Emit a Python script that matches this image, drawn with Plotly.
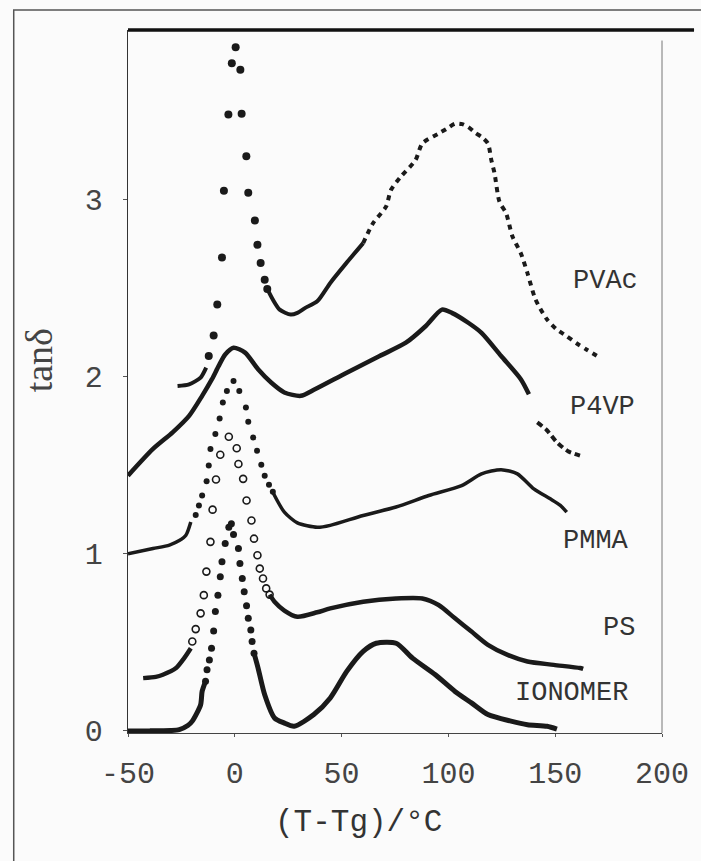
import plotly.graph_objects as go

# ---------------- data ----------------
# PVAc (filled dots)
pvac_lead_x = [-26.8, -21.4, -16.0, -13.4]
pvac_lead_y = [1.949, 1.958, 1.996, 2.052]
pvac_peak_x = [-12.2, -9.9, -8.2, -6.0, -5.1, -3.0, -1.4, 0.4, 2.6, 3.2, 5.4, 6.3, 9.4, 10.6, 12.1, 14.0, 15.2]
pvac_peak_y = [2.118, 2.234, 2.409, 2.675, 3.052, 3.482, 3.772, 3.862, 3.735, 3.487, 3.247, 3.041, 2.883, 2.746, 2.643, 2.549, 2.497]
pvac_trough_x = [15.2, 17.8, 21.0, 26.2, 29.3, 33.0, 38.6, 44.7, 52.0, 60.1]
pvac_trough_y = [2.497, 2.437, 2.380, 2.352, 2.362, 2.390, 2.427, 2.531, 2.640, 2.756]
pvac_hump_x = [60.1, 64.7, 70.8, 73.1, 77.7, 84.6, 87.8, 95.4, 99.0, 103.1, 106.5, 109.3, 112.5, 115.5, 118.5, 120.1,
               121.6, 123.9, 127.0, 130.0, 133.9, 137.0, 140.8, 146.2, 150.5, 155.4, 160.0, 164.6, 170.8]
pvac_hump_y = [2.756, 2.868, 2.962, 3.056, 3.131, 3.225, 3.319, 3.375, 3.400, 3.431, 3.428, 3.412, 3.380, 3.356, 3.319, 3.225,
               3.150, 2.990, 2.925, 2.793, 2.699, 2.587, 2.437, 2.324, 2.270, 2.230, 2.190, 2.155, 2.109]

# P4VP (open circles, dense)
p4vp_main_x = [-50.0, -38.3, -29.1, -21.4, -15.3, -10.7, -7.6, -4.5, -0.6, 4.8, 10.9, 17.0, 23.2, 30.9, 37.5,
               52.4, 67.8, 80.1, 89.3, 97.0, 101.6, 109.3, 115.5, 124.7, 133.9, 137.7]
p4vp_main_y = [1.442, 1.593, 1.687, 1.780, 1.893, 1.987, 2.061, 2.127, 2.165, 2.137, 2.043, 1.968, 1.912, 1.893, 1.930,
               2.024, 2.118, 2.193, 2.286, 2.380, 2.362, 2.306, 2.249, 2.118, 1.987, 1.902]
p4vp_tail_x = [141.6, 146.0, 150.8, 156.0, 161.6]
p4vp_tail_y = [1.743, 1.700, 1.630, 1.580, 1.555]

# PMMA (small filled dots)
pmma_left_x = [-50.0, -38.3, -30.6, -26.0, -22.9, -20.6]
pmma_left_y = [1.000, 1.030, 1.050, 1.075, 1.105, 1.180]
pmma_peak_x = [-18.3, -16.8, -15.3, -13.2, -12.2, -11.4, -9.1, -7.1, -5.6, -3.7, -0.6, 2.1, 5.2, 6.3, 8.6, 10.4,
               12.4, 14.0, 16.0, 17.8]
pmma_peak_y = [1.220, 1.274, 1.330, 1.410, 1.499, 1.593, 1.677, 1.765, 1.855, 1.921, 1.977, 1.921, 1.827, 1.746,
               1.658, 1.583, 1.503, 1.442, 1.390, 1.351]
pmma_right_x = [17.8, 18.6, 23.2, 29.3, 38.6, 44.7, 60.1, 75.5, 90.8, 106.2, 115.5, 124.7, 132.3, 140.0, 147.7, 152.4, 155.4]
pmma_right_y = [1.351, 1.330, 1.236, 1.175, 1.150, 1.161, 1.217, 1.265, 1.330, 1.386, 1.452, 1.476, 1.452, 1.367, 1.311,
                1.274, 1.236]

# PS (open circles)
ps_base_x = [-42.9, -37.0, -33.7, -27.5, -23.7, -20.6]
ps_base_y = [0.298, 0.305, 0.317, 0.355, 0.411, 0.467]
ps_peak_x = [-19.9, -18.3, -16.0, -14.5, -13.3, -11.4, -10.4, -8.8, -6.8, -2.8, 0.9, 1.7, 3.9, 5.5, 7.8, 9.0,
             10.6, 11.7, 13.2, 14.7, 16.3]
ps_peak_y = [0.505, 0.575, 0.664, 0.767, 0.900, 1.068, 1.250, 1.420, 1.560, 1.662, 1.597, 1.508, 1.424, 1.302,
             1.189, 1.086, 0.992, 0.917, 0.861, 0.805, 0.770]
ps_tail_x = [16.3, 18.6, 23.2, 29.3, 38.6, 44.7, 60.1, 75.5, 87.8, 95.4, 103.1, 110.8, 118.5, 127.7, 137.0, 149.3,
             161.6, 163.1]
ps_tail_y = [0.770, 0.730, 0.680, 0.645, 0.670, 0.692, 0.730, 0.748, 0.748, 0.711, 0.636, 0.561, 0.486, 0.429, 0.392,
             0.373, 0.355, 0.350]

# IONOMER (filled dots)
iono_base_x = [-50.0, -40.0, -30.0, -26.0, -22.0, -19.9, -16.0, -15.3, -13.7]
iono_base_y = [0.000, 0.000, 0.002, 0.007, 0.030, 0.055, 0.148, 0.223, 0.280]
iono_peak_x = [-13.7, -13.0, -11.9, -10.9, -9.9, -9.1, -7.9, -6.8, -6.0, -4.5, -2.8, -1.6, -0.6, 1.7, 2.4, 3.5,
               4.4, 5.5, 6.3, 7.5, 8.1, 9.0]
iono_peak_y = [0.280, 0.345, 0.401, 0.467, 0.564, 0.674, 0.767, 0.871, 0.955, 1.058, 1.150, 1.170, 1.110, 1.030,
               0.945, 0.861, 0.786, 0.707, 0.636, 0.570, 0.505, 0.439]
iono_right_x = [9.0, 10.9, 14.0, 18.6, 23.0, 27.8, 37.0, 44.7, 52.4, 60.1, 66.2, 75.5, 83.2, 93.9, 103.1, 110.8,
                118.5, 129.3, 137.0, 146.2, 150.8]
iono_right_y = [0.439, 0.355, 0.204, 0.073, 0.045, 0.026, 0.092, 0.186, 0.336, 0.449, 0.495, 0.495, 0.411, 0.317, 0.223,
                0.158, 0.092, 0.055, 0.035, 0.026, 0.010]

# curve labels
label_text = ["PVAc", "P4VP", "PMMA", "PS", "IONOMER"]
label_x = [173.7, 172.3, 169.1, 179.7, 157.5]
label_y = [2.54, 1.83, 1.075, 0.58, 0.214]

# ticks
x_tick_vals = [-50, 0, 50, 100, 150, 200]
x_tick_text = ["-50", "0", "50", "100", "150", "200"]
y_tick_vals = [0, 1, 2, 3]
y_tick_text = ["0", "1", "2", "3"]

# ---------------- figure ----------------
INK = "#1a1a1a"
fig = go.Figure()


def line(x, y, width, dash="solid"):
    fig.add_trace(go.Scatter(x=x, y=y, mode="lines",
                             line=dict(color=INK, width=width, shape="spline", smoothing=0.7, dash=dash),
                             hoverinfo="skip", showlegend=False))


def dots(x, y, size, open_=False):
    if open_:
        m = dict(symbol="circle-open", size=size, color=INK, line=dict(width=1.6, color=INK))
    else:
        m = dict(symbol="circle", size=size, color=INK)
    fig.add_trace(go.Scatter(x=x, y=y, mode="markers", marker=m, hoverinfo="skip",
                             showlegend=False, cliponaxis=False))


# PVAc
line(pvac_lead_x, pvac_lead_y, 4)
dots(pvac_peak_x, pvac_peak_y, 8)
line(pvac_trough_x, pvac_trough_y, 4)
line(pvac_hump_x, pvac_hump_y, 4, dash="5px,5px")
# P4VP
line(p4vp_main_x, p4vp_main_y, 4.5)
line(p4vp_tail_x, p4vp_tail_y, 4, dash="6px,4px")
# PMMA
line(pmma_left_x, pmma_left_y, 3.5)
dots(pmma_peak_x, pmma_peak_y, 6)
line(pmma_right_x, pmma_right_y, 3.5)
# PS
line(ps_base_x, ps_base_y, 4.5)
dots(ps_peak_x, ps_peak_y, 7, open_=True)
line(ps_tail_x, ps_tail_y, 4.5)
# IONOMER
line(iono_base_x, iono_base_y, 5)
dots(iono_peak_x, iono_peak_y, 7)
line(iono_right_x, iono_right_y, 5)

for t, x, y in zip(label_text, label_x, label_y):
    fig.add_annotation(x=x, y=y, text=t, showarrow=False,
                       font=dict(family="Liberation Mono", size=27, color="#333"))

# axis titles
fig.add_annotation(xref="paper", yref="paper", x=0.432, y=-0.127, xanchor="center", yanchor="middle",
                   text="(T-Tg)/°C", showarrow=False,
                   font=dict(family="Liberation Mono", size=31, color="#333"))
fig.add_annotation(xref="paper", yref="paper", x=-0.165, y=0.53, xanchor="center", yanchor="middle",
                   text="tanδ", textangle=-90, showarrow=False,
                   font=dict(family="Liberation Serif", size=38, color="#444"))

# frame pieces
shapes = [
    # outer scan border (only its left and top edges fall inside the page)
    dict(type="rect", xref="paper", yref="paper", x0=-0.214, x1=1.3, y0=-0.4, y1=1.0285,
         line=dict(color="#555", width=1.5), layer="below"),
    # thick top border of the plot, running to the page edge
    dict(type="line", xref="paper", yref="paper", x0=0, x1=1.06, y0=1, y1=1, line=dict(color="#111", width=3.5)),
    # faint right axis
    dict(type="line", xref="paper", yref="paper", x0=1, x1=1, y0=0, y1=0.985, line=dict(color="#777", width=1)),
]
fig.update_layout(shapes=shapes)

fig.update_layout(
    width=701, height=861,
    margin=dict(l=128, r=31, t=30, b=128),
    paper_bgcolor="#fbfbfb", plot_bgcolor="#fbfbfb",
    showlegend=False,
    xaxis=dict(range=[-50, 200], tickvals=x_tick_vals, ticktext=x_tick_text,
               showgrid=False, zeroline=False, showline=True, linecolor="#444", linewidth=1.2,
               ticks="outside", ticklen=3, tickcolor="#555", ticklabelstandoff=10,
               tickfont=dict(family="Liberation Mono", size=30, color="#444")),
    yaxis=dict(range=[-0.012, 3.96], tickvals=y_tick_vals, ticktext=y_tick_text,
               showgrid=False, zeroline=False, showline=True, linecolor="#333", linewidth=1.4,
               ticks="outside", ticklen=4, tickcolor="#555", ticklabelstandoff=14,
               tickfont=dict(family="Liberation Mono", size=30, color="#444")),
)

fig.write_html("out.html")
